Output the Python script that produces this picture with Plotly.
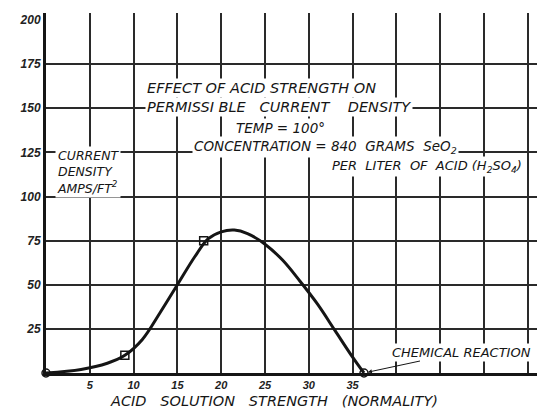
import plotly.graph_objects as go

# acid strength (normality) vs permissible current density (amps/ft^2)
curve_x = [0, 4, 7, 9, 11, 13, 15, 17, 18.5, 20, 21.5, 23, 25, 27, 29, 31, 33, 35, 36.3]
curve_y = [0, 2, 5.5, 10, 19, 34, 50, 66, 76, 80, 81, 79, 73, 64, 52, 39, 24, 9, 0]

# plotted observation points
point_x = [0, 9, 18, 36.3]
point_y = [0, 10, 75, 0]
point_symbols = ["circle-open", "square-open", "square-open", "circle-open"]

x_ticks = [5, 10, 15, 20, 25, 30, 35]
x_grid = [5, 10, 15, 20, 25, 30, 35, 40, 45, 50, 55]
y_ticks = [25, 50, 75, 100, 125, 150, 175, 200]
y_grid = [25, 50, 75, 100, 125, 150, 175]

INK = "#151515"
FONT = "DejaVu Sans"
SP = "&nbsp;"

fig = go.Figure()
fig.add_trace(go.Scatter(
    x=curve_x, y=curve_y, mode="lines",
    line=dict(color=INK, width=3, shape="spline", smoothing=1.0),
    hoverinfo="skip", showlegend=False,
))
fig.add_trace(go.Scatter(
    x=point_x, y=point_y, mode="markers",
    marker=dict(symbol=point_symbols, size=8, color=INK, line=dict(color=INK, width=1.5)),
    cliponaxis=False, showlegend=False,
))

fig.update_xaxes(
    range=[0, 56.05], tickvals=x_ticks, ticktext=[f"<b><i>{v}</i></b>" for v in x_ticks],
    showgrid=False, zeroline=False, ticks="",
    minor=dict(tickvals=x_grid, showgrid=True, gridcolor="#2a2a2a", gridwidth=1.5, ticks=""),
    showline=True, linecolor=INK, linewidth=3,
    tickfont=dict(family="Liberation Sans", size=11, color="#222"),
)
fig.update_yaxes(
    range=[0, 204], tickvals=y_ticks, ticktext=[f"<b><i>{v}</i></b>" for v in y_ticks],
    showgrid=False, zeroline=False, ticks="",
    minor=dict(tickvals=y_grid, showgrid=True, gridcolor="#2a2a2a", gridwidth=1.5, ticks=""),
    showline=True, linecolor=INK, linewidth=3,
    tickfont=dict(family="Liberation Sans", size=12, color="#222"),
)

notes = [
    (f"EFFECT OF ACID STRENGTH ON", 0.2016, 0.792, "left", 14.5),
    (f"PERMISSI BLE{SP}{SP} CURRENT{SP}{SP}{SP} DENSITY", 0.2016, 0.739, "left", 14.5),
    ("TEMP = 100°", 0.477, 0.681, "center", 13.5),
    (f"CONCENTRATION{SP}={SP}840{SP} GRAMS{SP} SeO<sub>2</sub>", 0.297, 0.628, "left", 13.5),
    (f"PER{SP} LITER{SP} OF{SP} ACID{SP}(H<sub>2</sub>SO<sub>4</sub>)", 0.578, 0.575, "left", 13),
]
for text, x, y, anchor, size in notes:
    fig.add_annotation(
        text=f"<i>{text}</i>", x=x, y=y, xref="paper", yref="paper",
        xanchor=anchor, yanchor="middle", showarrow=False,
        font=dict(family=FONT, size=size, color=INK),
        bgcolor="white", borderpad=1,
    )

fig.add_annotation(
    text="<i>CURRENT<br>DENSITY<br>AMPS/FT<sup>2</sup></i>", x=0.018, y=0.558,
    xref="paper", yref="paper", xanchor="left", yanchor="middle", align="left",
    showarrow=False, font=dict(family=FONT, size=12.5, color=INK), bgcolor="white",
)
fig.add_annotation(
    text="<i>CHEMICAL REACTION</i>", x=36.3, y=0, xref="x", yref="y",
    ax=98, ay=-21, axref="pixel", ayref="pixel", xanchor="center",
    showarrow=True, arrowhead=2, arrowsize=0.8, arrowwidth=1, arrowcolor=INK,
    standoff=4, font=dict(family=FONT, size=13, color=INK), bgcolor="white",
)
fig.add_annotation(
    text=f"<i>ACID{SP}{SP} SOLUTION{SP}{SP} STRENGTH{SP}{SP} (NORMALITY)</i>", x=0.464, y=-0.078,
    xref="paper", yref="paper", xanchor="center", yanchor="middle",
    showarrow=False, font=dict(family=FONT, size=14.5, color=INK),
)

fig.update_layout(
    width=537, height=410,
    margin=dict(l=46, r=0, t=13, b=37),
    paper_bgcolor="white", plot_bgcolor="white",
)

fig.write_html(
    "out.html",
    config={"displayModeBar": False},
    post_script="document.body.style.margin='0px';",
)
